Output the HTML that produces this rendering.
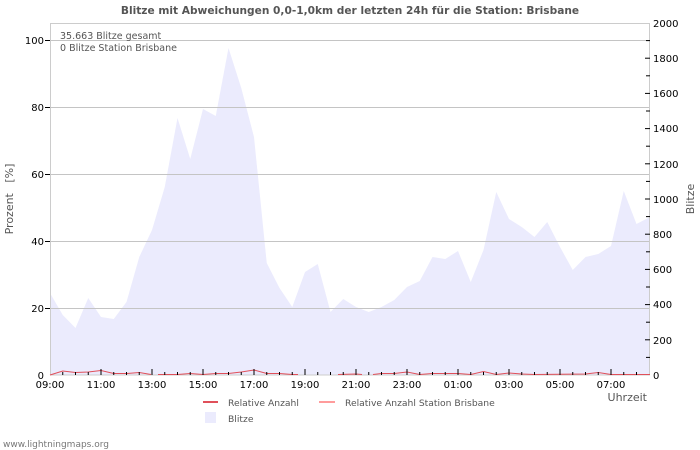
<!DOCTYPE html>
<html><head><meta charset="utf-8"><style>
html,body{margin:0;padding:0;background:#fff;}
svg{display:block;font-family:"DejaVu Sans","Liberation Sans",sans-serif;}
.pre{white-space:pre;}
</style></head><body>
<svg width="700" height="450" viewBox="0 0 700 450" xmlns="http://www.w3.org/2000/svg">
<rect width="700" height="450" fill="#fff"/>
<text x="350" y="14" text-anchor="middle" font-size="10.6" font-weight="bold" fill="#555">Blitze mit Abweichungen 0,0-1,0km der letzten 24h für die Station: Brisbane</text>
<!-- area -->
<polygon fill="#ebebfd" points="50,375 50,293 62.75,315 75.5,328 88.25,298 101,317 113.75,319 126.5,302 139.25,257 152,230 164.75,187 177.5,118 190.25,159 203,109 215.75,116 228.5,48 241.25,88 254,137 266.75,263 279.5,288 292.25,307 305,272 317.75,264 330.5,312 343.25,299 356,307 368.75,312 381.5,307 394.25,300 407,287 419.75,281 432.5,257 445.25,259 458,251 470.75,282 483.5,250 496.25,192 509,219 521.75,227 534.5,237 547.25,222 560,247 572.75,270 585.5,257 598.25,254 611,246 623.75,191 636.5,224 650,217 650,375"/>
<!-- grid -->
<g stroke="#c4c4c4" stroke-width="1">
<line x1="50" y1="40.5" x2="650" y2="40.5"/>
<line x1="50" y1="107.5" x2="650" y2="107.5"/>
<line x1="50" y1="174.5" x2="650" y2="174.5"/>
<line x1="50" y1="241.5" x2="650" y2="241.5"/>
<line x1="50" y1="308.5" x2="650" y2="308.5"/>
</g>
<!-- frame -->
<rect x="50.5" y="23.5" width="599" height="351.5" fill="none" stroke="#cccccc"/>
<!-- stats text -->
<text x="60" y="39" font-size="9.5" fill="#555">35.663 Blitze gesamt</text>
<text x="60" y="51" font-size="9.5" fill="#555">0 Blitze Station Brisbane</text>
<!-- red line -->
<g fill="none" stroke="#e0505a" stroke-width="1">
<polyline points="50,375 62.75,371 75.5,372.5 88.25,372 101,370.5 113.75,373.5 126.5,373.5 139.25,372.5 151,374.5"/>
<polyline points="158,374.5 177.5,374.5 190.25,373.5 203,374.5 215.75,373.5 228.5,373.5 241.25,372 254,370 266.75,373.5 279.5,373.5 292.25,374.5 298,374.5"/>
<polyline points="338,374.5 356,374 362,374.5"/>
<polyline points="373,374.5 381.5,373.5 394.25,373.5 407,372 419.75,374.5 432.5,373.5 458,373.5 470.75,374.5 483.5,371.5 496.25,374.5 509,373 521.75,374 534.5,374.5 585.5,374 598.25,372.5 611,374.5 650,374.5"/>
</g>
<!-- bottom ticks -->
<g stroke="#000" stroke-width="1">
<line x1="62.75" y1="372" x2="62.75" y2="375"/><line x1="75.5" y1="372" x2="75.5" y2="375"/><line x1="88.25" y1="372" x2="88.25" y2="375"/><line x1="101" y1="369" x2="101" y2="375"/>
<line x1="113.75" y1="372" x2="113.75" y2="375"/><line x1="126.5" y1="372" x2="126.5" y2="375"/><line x1="139.25" y1="372" x2="139.25" y2="375"/><line x1="152" y1="369" x2="152" y2="375"/>
<line x1="164.75" y1="372" x2="164.75" y2="375"/><line x1="177.5" y1="372" x2="177.5" y2="375"/><line x1="190.25" y1="372" x2="190.25" y2="375"/><line x1="203" y1="369" x2="203" y2="375"/>
<line x1="215.75" y1="372" x2="215.75" y2="375"/><line x1="228.5" y1="372" x2="228.5" y2="375"/><line x1="241.25" y1="372" x2="241.25" y2="375"/><line x1="254" y1="369" x2="254" y2="375"/>
<line x1="266.75" y1="372" x2="266.75" y2="375"/><line x1="279.5" y1="372" x2="279.5" y2="375"/><line x1="292.25" y1="372" x2="292.25" y2="375"/><line x1="305" y1="369" x2="305" y2="375"/>
<line x1="317.75" y1="372" x2="317.75" y2="375"/><line x1="330.5" y1="372" x2="330.5" y2="375"/><line x1="343.25" y1="372" x2="343.25" y2="375"/><line x1="356" y1="369" x2="356" y2="375"/>
<line x1="368.75" y1="372" x2="368.75" y2="375"/><line x1="381.5" y1="372" x2="381.5" y2="375"/><line x1="394.25" y1="372" x2="394.25" y2="375"/><line x1="407" y1="369" x2="407" y2="375"/>
<line x1="419.75" y1="372" x2="419.75" y2="375"/><line x1="432.5" y1="372" x2="432.5" y2="375"/><line x1="445.25" y1="372" x2="445.25" y2="375"/><line x1="458" y1="369" x2="458" y2="375"/>
<line x1="470.75" y1="372" x2="470.75" y2="375"/><line x1="483.5" y1="372" x2="483.5" y2="375"/><line x1="496.25" y1="372" x2="496.25" y2="375"/><line x1="509" y1="369" x2="509" y2="375"/>
<line x1="521.75" y1="372" x2="521.75" y2="375"/><line x1="534.5" y1="372" x2="534.5" y2="375"/><line x1="547.25" y1="372" x2="547.25" y2="375"/><line x1="560" y1="369" x2="560" y2="375"/>
<line x1="572.75" y1="372" x2="572.75" y2="375"/><line x1="585.5" y1="372" x2="585.5" y2="375"/><line x1="598.25" y1="372" x2="598.25" y2="375"/><line x1="611" y1="369" x2="611" y2="375"/>
<line x1="623.75" y1="372" x2="623.75" y2="375"/><line x1="636.5" y1="372" x2="636.5" y2="375"/>
</g>
<!-- left axis ticks -->
<g stroke="#000" stroke-width="1">
<line x1="45" y1="40.5" x2="50" y2="40.5"/><line x1="45" y1="107.5" x2="50" y2="107.5"/><line x1="45" y1="174.5" x2="50" y2="174.5"/><line x1="45" y1="241.5" x2="50" y2="241.5"/><line x1="45" y1="308.5" x2="50" y2="308.5"/>
</g>
<g font-size="10" fill="#000" text-anchor="end">
<text x="44" y="44">100</text><text x="44" y="111">80</text><text x="44" y="178">60</text><text x="44" y="245">40</text><text x="44" y="312">20</text><text x="44" y="379">0</text>
</g>
<text class="pre" transform="translate(13,199) rotate(-90)" text-anchor="middle" font-size="11" fill="#555">Prozent   [%]</text>
<!-- right axis ticks -->
<g stroke="#000" stroke-width="1">
<line x1="646" y1="40.6" x2="650" y2="40.6"/><line x1="645" y1="58.2" x2="650" y2="58.2"/>
<line x1="646" y1="75.8" x2="650" y2="75.8"/><line x1="645" y1="93.4" x2="650" y2="93.4"/>
<line x1="646" y1="111" x2="650" y2="111"/><line x1="645" y1="128.6" x2="650" y2="128.6"/>
<line x1="646" y1="146.2" x2="650" y2="146.2"/><line x1="645" y1="163.8" x2="650" y2="163.8"/>
<line x1="646" y1="181.4" x2="650" y2="181.4"/><line x1="645" y1="199" x2="650" y2="199"/>
<line x1="646" y1="216.6" x2="650" y2="216.6"/><line x1="645" y1="234.2" x2="650" y2="234.2"/>
<line x1="646" y1="251.8" x2="650" y2="251.8"/><line x1="645" y1="269.4" x2="650" y2="269.4"/>
<line x1="646" y1="287" x2="650" y2="287"/><line x1="645" y1="304.6" x2="650" y2="304.6"/>
<line x1="646" y1="322.2" x2="650" y2="322.2"/><line x1="645" y1="339.8" x2="650" y2="339.8"/>
<line x1="646" y1="357.4" x2="650" y2="357.4"/>
</g>
<g font-size="10" fill="#000">
<text x="653" y="27">2000</text><text x="653" y="62">1800</text><text x="653" y="97">1600</text><text x="653" y="132">1400</text><text x="653" y="168">1200</text><text x="653" y="203">1000</text><text x="653" y="238">800</text><text x="653" y="273">600</text><text x="653" y="308">400</text><text x="653" y="344">200</text><text x="653" y="379">0</text>
</g>
<text transform="translate(694,199) rotate(-90)" text-anchor="middle" font-size="11" fill="#555">Blitze</text>
<!-- x labels -->
<g font-size="10" fill="#000" text-anchor="middle">
<text x="50" y="388">09:00</text><text x="101" y="388">11:00</text><text x="152" y="388">13:00</text><text x="203" y="388">15:00</text><text x="254" y="388">17:00</text><text x="305" y="388">19:00</text><text x="356" y="388">21:00</text><text x="407" y="388">23:00</text><text x="458" y="388">01:00</text><text x="509" y="388">03:00</text><text x="560" y="388">05:00</text><text x="611" y="388">07:00</text>
</g>
<text x="647" y="401" text-anchor="end" font-size="11" fill="#555">Uhrzeit</text>
<!-- legend -->
<line x1="203" y1="402" x2="218" y2="402" stroke="#e0505a" stroke-width="2"/>
<text x="228" y="406" font-size="9.2" fill="#555">Relative Anzahl</text>
<line x1="319" y1="402" x2="335" y2="402" stroke="#ff9c9c" stroke-width="2"/>
<text x="345" y="406" font-size="9.2" fill="#555">Relative Anzahl Station Brisbane</text>
<rect x="205" y="412" width="11" height="11" fill="#ebebfd"/>
<text x="228" y="422" font-size="9.2" fill="#555">Blitze</text>
<text x="3" y="447" font-size="9" fill="#777">www.lightningmaps.org</text>
</svg>
</body></html>
